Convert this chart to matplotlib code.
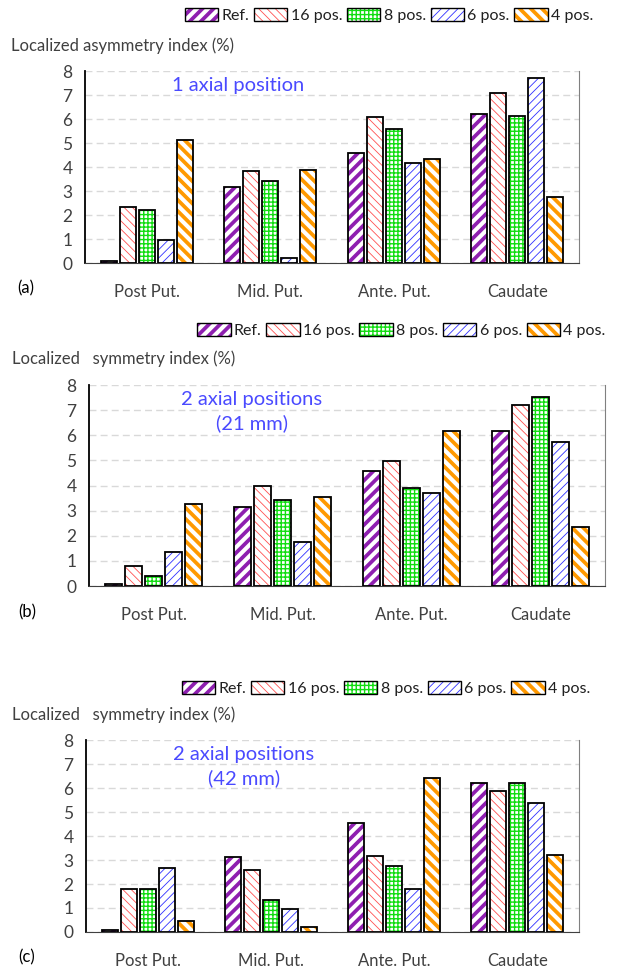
import matplotlib.pyplot as plt
import matplotlib
from matplotlib.patches import Patch, Rectangle
import numpy as np

matplotlib.rcParams['font.family'] = ['Lato', 'DejaVu Sans']

regions = ['Post Put.', 'Mid. Put.', 'Ante. Put.', 'Caudate']
series = ['Ref.', '16 pos.', '8 pos.', '6 pos.', '4 pos.']

# asymmetry index (%) per region, one list per sampling scheme
a_ref = [0.1, 3.15, 4.6, 6.22]
a_16 = [2.35, 3.83, 6.08, 7.08]
a_8 = [2.2, 3.41, 5.59, 6.12]
a_6 = [0.97, 0.2, 4.15, 7.7]
a_4 = [5.12, 3.88, 4.35, 2.77]

b_ref = [0.1, 3.15, 4.57, 6.19]
b_16 = [0.81, 3.98, 4.98, 7.21]
b_8 = [0.39, 3.43, 3.9, 7.53]
b_6 = [1.34, 1.74, 3.72, 5.72]
b_4 = [3.25, 3.55, 6.19, 2.35]

c_ref = [0.1, 3.13, 4.56, 6.19]
c_16 = [1.8, 2.57, 3.18, 5.89]
c_8 = [1.79, 1.33, 2.76, 6.23]
c_6 = [2.65, 0.96, 1.8, 5.37]
c_4 = [0.44, 0.19, 6.41, 3.22]

# (hatch colour, hatch, hatch linewidth, face colour)
styles = [
    ('#8e1fb0', '///', 2.7, 'white'),
    ('#ff5050', '\\\\\\\\', 0.6, 'white'),
    ('#11dd11', '++++', 1.0, 'white'),
    ('#3030ff', '////', 0.6, 'white'),
    ('#ff9900', '\\\\\\', 2.7, 'white'),
]
hatch_lw = {st[1]: st[2] for st in styles}

txt = '#404040'
blue = '#4a4aff'

fig = plt.figure(figsize=(6.17, 9.68), dpi=100)


def set_hlw(p, lw):
    if hasattr(p, 'set_hatch_linewidth'):
        p.set_hatch_linewidth(lw)


def hatched(ax, x, h, w, st):
    col, hatch, lw, face = st
    with plt.rc_context({'hatch.linewidth': lw}):
        b = ax.bar(x, h, w, color=face, edgecolor=col, hatch=hatch, linewidth=0, zorder=3)
    for p in b:
        set_hlw(p, lw)
    ax.bar(x, h, w, facecolor='none', edgecolor='black', linewidth=1.3, zorder=4)


def panel(rect, data, ylabel, note, tag, leg_anchor):
    ax = fig.add_axes(rect)
    x = np.arange(len(regions))
    step, w = 0.154, 0.13
    for i, (vals, st) in enumerate(zip(data, styles)):
        hatched(ax, x + (i - 2) * step, vals, w, st)
    ax.set_xlim(-0.5, 3.5)
    ax.set_ylim(0, 8)
    ax.set_yticks(range(0, 9))
    ax.set_xticks(x)
    ax.set_xticklabels(regions, fontsize=12, color=txt)
    ax.tick_params(axis='x', length=0, pad=15)
    ax.tick_params(axis='y', length=0, pad=9, labelsize=12.5, labelcolor=txt)
    ax.yaxis.grid(True, color='#d9d9d9', linestyle=(0, (5, 3)), linewidth=1, zorder=0)
    ax.spines['top'].set_visible(False)
    ax.spines['right'].set_color('#808080')
    ax.spines['left'].set_linewidth(1.3)
    ax.spines['bottom'].set_color('#404040')
    ax.text(-0.15, 1.13, ylabel, transform=ax.transAxes, fontsize=12, color=txt,
            ha='left', va='center')
    ax.text(note[0], note[1], note[2], transform=ax.transAxes, fontsize=14.5,
            color=blue, ha='center', va='top', linespacing=1.4)
    ax.text(-0.12, -0.13, tag, transform=ax.transAxes, fontsize=12, color='black',
            ha='center', va='center')

    handles = []
    for st in styles:
        col, hatch, lw, face = st
        hp = Patch(facecolor=face, edgecolor=col, hatch=hatch, linewidth=0)
        set_hlw(hp, lw)
        op = Patch(facecolor='none', edgecolor='black', linewidth=1.0)
        handles.append((hp, op))
    leg = fig.legend(handles, series, loc='center right', bbox_to_anchor=leg_anchor,
                     ncol=5, frameon=False, fontsize=11.5, handlelength=2.1,
                     handleheight=0.9, handletextpad=0.2, columnspacing=0.3,
                     labelcolor='#202020')
    for r in leg.findobj(Rectangle):
        if r.get_hatch() in hatch_lw:
            set_hlw(r, hatch_lw[r.get_hatch()])
    return ax


panel([0.1378, 0.7283, 0.8007, 0.1983],
      [a_ref, a_16, a_8, a_6, a_4],
      'Localized asymmetry index (%)',
      (0.31, 0.97, '1 axial position'), '(a)', (0.985, 0.984))

panel([0.1442, 0.3946, 0.8363, 0.2076],
      [b_ref, b_16, b_8, b_6, b_4],
      'Localized   symmetry index (%)',
      (0.315, 0.97, '2 axial positions\n(21 mm)'), '(b)', (1.005, 0.659))

panel([0.1394, 0.0372, 0.7990, 0.1983],
      [c_ref, c_16, c_8, c_6, c_4],
      'Localized   symmetry index (%)',
      (0.32, 0.97, '2 axial positions\n(42 mm)'), '(c)', (0.98, 0.289))

fig.savefig('out.png', dpi=100)
